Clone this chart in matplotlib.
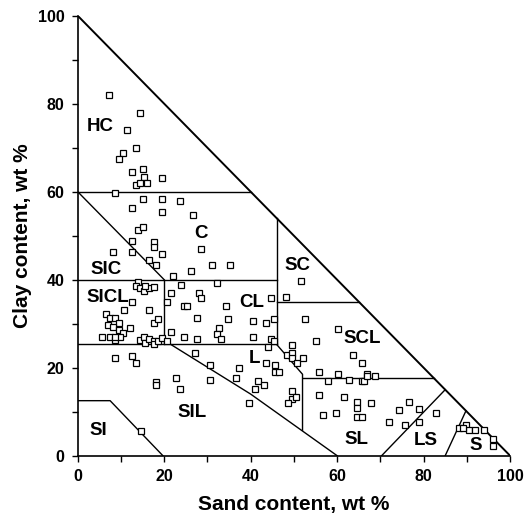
import matplotlib
matplotlib.use("Agg")
import matplotlib.pyplot as plt
import numpy as np

plt.rcParams['font.family'] = ['Liberation Sans', 'DejaVu Sans']
plt.rcParams['font.weight'] = 'bold'

# measured samples: sand %, clay %
sand = [7.2, 14.4, 11.4, 13.4, 10.5, 9.5, 12.6, 15.0, 15.3, 19.6, 13.4, 14.4, 16.0, 8.6,
        15.0, 19.6, 23.6, 12.6, 19.6, 26.6, 14.0, 15.2, 28.6, 8.1, 12.6, 12.6, 17.6, 17.6,
        16.6, 18.0, 19.6, 31.1, 35.2, 26.1, 22.1, 24.0, 32.2, 51.7, 48.1,
        14.0, 13.4, 14.4, 15.3, 16.4, 17.6, 15.6, 12.6, 10.6, 16.6, 17.6, 18.6, 20.6, 21.6,
        6.6, 7.5, 8.7, 7.1, 9.5, 8.1, 9.5, 10.5, 12.1, 5.6, 7.5, 8.6, 9.9, 8.6, 14.4, 15.3,
        15.6, 16.6, 17.6, 17.6, 18.6, 19.6, 20.6, 21.6,
        24.7, 25.2, 28.1, 28.6, 27.7, 34.2, 34.7, 32.6, 32.2, 33.2, 24.7, 27.6, 40.6, 40.6,
        43.6, 45.3, 44.6, 44.6, 45.3,
        44.1, 27.1, 30.6, 37.2, 36.6, 43.6, 45.6, 45.6, 46.6, 41.6, 43.2, 41.1, 30.6, 39.6,
        48.5, 49.6, 49.6, 49.6, 50.7, 52.2, 49.6, 49.6, 48.6, 50.6,
        8.6, 12.6, 13.6, 18.1, 18.1, 22.7, 23.6, 14.6,
        52.6, 55.1, 60.3, 63.6, 65.7, 55.8, 57.8, 60.3, 62.7, 65.7, 66.2, 66.8, 68.8, 66.8,
        55.7, 56.7, 59.8, 61.7, 64.7, 64.7, 64.7, 65.7, 67.8, 71.9, 74.3, 76.7, 75.7, 78.9,
        78.9, 82.9,
        88.3, 89.7, 90.6, 91.8, 94.0, 96.0, 96.0, 89.2]
clay = [82.0, 77.8, 74.0, 70.0, 68.9, 67.4, 64.5, 65.1, 63.4, 63.0, 61.5, 62.0, 62.0, 59.8,
        58.4, 58.4, 57.9, 56.4, 55.4, 54.8, 51.4, 51.9, 46.9, 46.4, 48.9, 46.4, 48.5, 47.4,
        44.5, 43.3, 45.8, 43.3, 43.3, 42.0, 40.9, 38.8, 39.2, 39.8, 36.1,
        39.5, 38.6, 38.0, 37.5, 38.0, 38.4, 38.6, 35.0, 33.0, 33.0, 30.1, 31.0, 35.0, 36.9,
        32.2, 31.2, 31.2, 29.7, 30.2, 29.3, 28.6, 27.8, 29.1, 27.0, 27.0, 26.3, 27.0, 27.0,
        26.3, 27.0, 25.5, 26.6, 26.1, 25.4, 26.1, 26.7, 26.1, 28.2,
        34.1, 34.1, 36.9, 35.9, 31.4, 34.0, 31.0, 29.1, 27.6, 26.6, 27.0, 26.6, 30.5, 27.0,
        30.1, 31.0, 35.9, 26.6, 26.1,
        24.8, 23.3, 20.6, 20.0, 17.6, 21.0, 20.6, 19.1, 19.1, 17.0, 16.1, 15.1, 17.2, 11.9,
        22.9, 25.2, 23.3, 22.1, 21.0, 22.1, 14.8, 12.9, 11.9, 13.3,
        22.1, 22.7, 21.1, 16.8, 16.1, 17.6, 15.1, 5.6,
        31.0, 26.1, 28.9, 22.9, 21.0, 19.1, 17.0, 18.6, 17.3, 17.0, 17.0, 18.6, 18.1, 18.0,
        13.9, 9.2, 9.8, 13.4, 12.3, 10.8, 8.9, 8.9, 11.9, 7.7, 10.4, 12.3, 7.0, 10.5,
        7.7, 9.8,
        6.4, 6.9, 5.8, 5.8, 5.8, 3.9, 2.3, 6.2]

# texture class boundaries (sand, clay)
outline = [(0, 100), (100, 0)]
boundaries = [
    [(0, 60), (40, 60)],
    [(0, 60), (20, 40)],
    [(0, 40), (46, 40)],
    [(20, 40), (20, 25.3)],
    [(0, 25.3), (46, 25.3)],
    [(46, 25.3), (46, 54)],
    [(46, 35), (65, 35)],
    [(46, 25.3), (52, 18.5), (52, 5.8)],
    [(52, 17.7), (82.3, 17.7)],
    [(21.5, 25.3), (40, 14), (60, 0)],
    [(0, 12.5), (7.5, 12.5), (19.7, 0)],
    [(70.3, 0), (85, 15)],
    [(85, 0), (89.8, 10.2)],
]
class_names = ['HC', 'C', 'SIC', 'SICL', 'CL', 'SC', 'SCL', 'L', 'SIL', 'SI', 'SL', 'LS', 'S']
class_x = [5.2, 28.5, 6.6, 6.9, 40.2, 50.9, 65.9, 40.8, 26.4, 4.8, 64.4, 80.6, 92.1]
class_y = [74.9, 50.5, 42.3, 35.9, 34.8, 43.3, 26.6, 22.1, 9.8, 5.8, 3.6, 3.4, 2.4]

fig = plt.figure(figsize=(5.26, 5.16), dpi=100)
ax = fig.add_axes([0.1477, 0.1169, 0.822, 0.8527])

ax.plot(*zip(*outline), color='black', lw=1.4)
for b in boundaries:
    ax.plot(*zip(*b), color='black', lw=1.0)

ax.plot(sand, clay, 's', ms=4.6, mfc='white', mec='black', mew=0.9, ls='none')

for name, x, y in zip(class_names, class_x, class_y):
    ax.text(x, y, name, ha='center', va='center', fontsize=13.5, fontweight='bold')

ax.set_xlim(0, 100)
ax.set_ylim(0, 100)
ax.spines['top'].set_visible(False)
ax.spines['right'].set_visible(False)
for s in ('left', 'bottom'):
    ax.spines[s].set_linewidth(1.2)
ax.set_xticks(np.arange(0, 101, 20))
ax.set_yticks(np.arange(0, 101, 20))
ax.set_xticks(np.arange(10, 100, 20), minor=True)
ax.set_yticks(np.arange(10, 100, 20), minor=True)
ax.tick_params(which='both', direction='out', length=4.5, width=1.0, labelsize=11.5, pad=5)
for lab in ax.get_xticklabels() + ax.get_yticklabels():
    lab.set_fontweight('bold')

ax.set_xlabel('Sand content, wt %', fontsize=15, fontweight='bold', labelpad=8)
ax.set_ylabel('Clay content, wt %', fontsize=15, fontweight='bold', labelpad=4)

fig.savefig('out.png', dpi=100)
